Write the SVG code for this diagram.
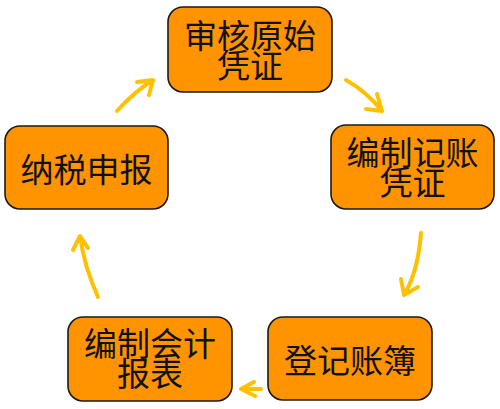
<svg xmlns="http://www.w3.org/2000/svg" width="500" height="409" viewBox="0 0 500 409">
<style>
.box{fill:#FF9400;stroke:#1a1a1a;stroke-width:1.6}
.t{font-family:"Noto Sans CJK SC","Noto Sans",sans-serif;font-size:33px;fill:#111;text-anchor:middle;dominant-baseline:central}
.a{fill:none;stroke:#FFC000;stroke-width:4;stroke-linecap:round;stroke-linejoin:round}
</style>
<rect width="500" height="409" fill="#fff"/>
<g id="n1"><rect class="box" x="168" y="7" width="164" height="85" rx="15"/><text class="t"><tspan x="250" y="34">审核原始</tspan><tspan x="250" y="64">凭证</tspan></text></g>
<g id="n2"><rect class="box" x="331" y="125" width="163" height="84" rx="15"/><text class="t"><tspan x="412.5" y="151">编制记账</tspan><tspan x="412.5" y="181">凭证</tspan></text></g>
<g id="n3"><rect class="box" x="268" y="317" width="164" height="83" rx="15"/><text class="t" x="350" y="358.5">登记账簿</text></g>
<g id="n4"><rect class="box" x="68" y="317" width="164" height="84" rx="15"/><text class="t"><tspan x="150" y="342">编制会计</tspan><tspan x="150" y="372">报表</tspan></text></g>
<g id="n5"><rect class="box" x="5" y="126" width="163" height="83" rx="15"/><text class="t" x="86.5" y="167.5">纳税申报</text></g>
<g id="connectors">
<path class="a" d="M346,80 Q367,92 382,111 M377,94 L382,111 L366,109"/>
<path class="a" d="M421,233 Q418,272 404,295 M401,279 L404,295 L418,287"/>
<path class="a" d="M261,389 L241,389 M254,382 L241,389 L255,396"/>
<path class="a" d="M98,297 Q84,266 80,236 M73,250 L80,236 L88,248"/>
<path class="a" d="M117,111 Q134,92 153,80 M137,82 L153,80 L149,95"/>
</g>
</svg>
